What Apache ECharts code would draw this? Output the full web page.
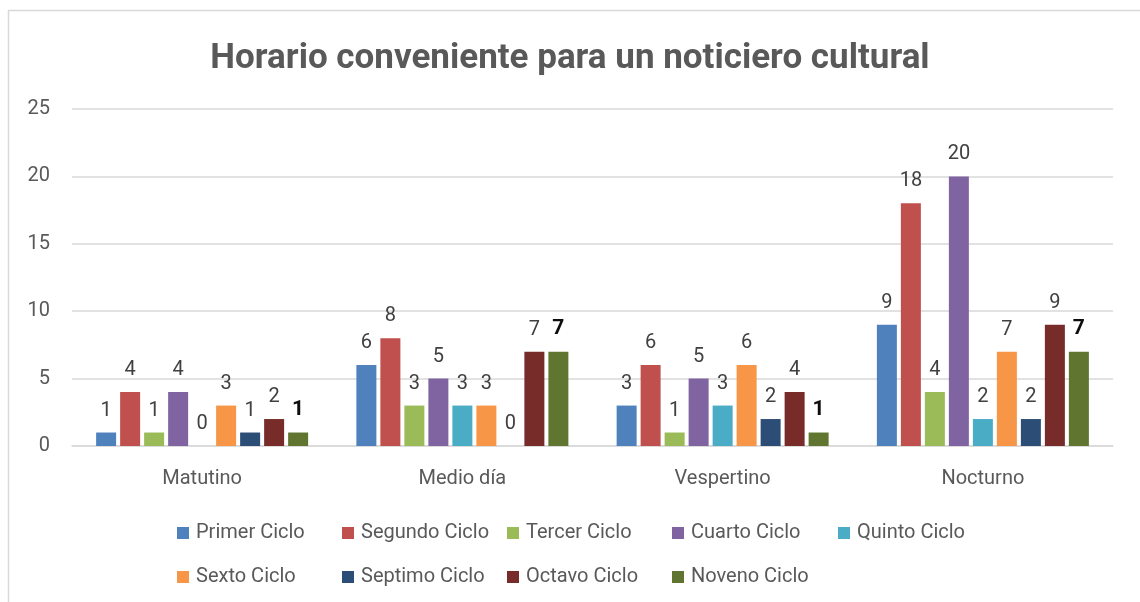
<!DOCTYPE html>
<html>
<head>
<meta charset="utf-8">
<script src="https://cdn.jsdelivr.net/npm/echarts@6/dist/echarts.min.js"></script>
<style>
  html, body { margin: 0; padding: 0; background: #fff; }
  #chart { width: 1140px; height: 602px; }
</style>
</head>
<body>
<div id="chart"></div>
<script>
// datos del grafico
const categorias = ["Matutino", "Medio día", "Vespertino", "Nocturno"];
const ciclos = ["Primer Ciclo", "Segundo Ciclo", "Tercer Ciclo", "Cuarto Ciclo", "Quinto Ciclo",
  "Sexto Ciclo", "Septimo Ciclo", "Octavo Ciclo", "Noveno Ciclo"];
const primerCiclo = [1, 6, 3, 9];
const segundoCiclo = [4, 8, 6, 18];
const tercerCiclo = [1, 3, 1, 4];
const cuartoCiclo = [4, 5, 5, 20];
const quintoCiclo = [0, 3, 3, 2];
const sextoCiclo = [3, 3, 6, 7];
const septimoCiclo = [1, 0, 2, 2];
const octavoCiclo = [2, 7, 4, 9];
const novenoCiclo = [1, 7, 1, 7];
const yTicks = [0, 5, 10, 15, 20, 25];

const valores = [primerCiclo, segundoCiclo, tercerCiclo, cuartoCiclo, quintoCiclo,
  sextoCiclo, septimoCiclo, octavoCiclo, novenoCiclo];
const colores = ["#4F81BD", "#C0504D", "#9BBB59", "#8064A2", "#4BACC6",
  "#F79646", "#2C4D75", "#772C2A", "#5F7530"];
const fuente = "Roboto, sans-serif";

// columnas de la leyenda (5 por fila)
const legendCols = [177, 342, 507, 672, 838];
const legendRows = [523, 567];

let myChart = echarts.init(document.getElementById("chart"));

let series = ciclos.map((nombre, idx) => {
  const ultimo = idx === ciclos.length - 1;
  return {
    name: nombre,
    type: "bar",
    data: valores[idx],
    barWidth: 20,
    barGap: "20%",
    itemStyle: { color: colores[idx] },
    label: {
      show: true,
      position: "top",
      distance: 12,
      fontFamily: fuente,
      fontSize: ultimo ? 21 : 20,
      fontWeight: ultimo ? "bold" : "normal",
      color: ultimo ? "#0d0d0d" : "#404040",
    },
  };
});

let legends = ciclos.map((nombre, idx) => {
  return {
    left: legendCols[idx % 5],
    top: legendRows[Math.floor(idx / 5)],
    padding: 0,
    itemWidth: 12,
    itemHeight: 12,
    itemGap: 0,
    icon: "rect",
    textStyle: {
      fontFamily: fuente,
      fontSize: 20,
      color: "#595959",
      padding: [0, 0, 0, 2],
    },
    data: [nombre],
  };
});

let options = {
  backgroundColor: "#fff",
  animation: false,
  graphic: [
    {
      type: "rect",
      shape: { x: 8.5, y: 10.5, width: 1140, height: 600 },
      style: { fill: "none", stroke: "#d9d9d9", lineWidth: 1.5 },
    },
  ],
  title: {
    text: "Horario conveniente para un noticiero cultural",
    left: "center",
    top: 37,
    textStyle: {
      fontFamily: fuente,
      fontSize: 35,
      fontWeight: "bold",
      color: "#595959",
    },
  },
  legend: legends,
  grid: {
    left: 72,
    right: 27,
    top: 109,
    bottom: 156,
  },
  xAxis: {
    type: "category",
    data: categorias,
    axisLine: { lineStyle: { color: "#d9d9d9", width: 1.5 } },
    axisTick: { show: false },
    axisLabel: {
      margin: 23,
      fontFamily: fuente,
      fontSize: 20,
      color: "#595959",
    },
  },
  yAxis: {
    type: "value",
    min: yTicks[0],
    max: yTicks[yTicks.length - 1],
    interval: 5,
    axisLine: { show: false },
    axisTick: { show: false },
    axisLabel: {
      margin: 22,
      fontFamily: fuente,
      fontSize: 20,
      color: "#595959",
    },
    splitLine: { lineStyle: { color: "#d9d9d9", width: 1.5 } },
  },
  series: series,
};

myChart.setOption(options, true);
</script>
</body>
</html>
